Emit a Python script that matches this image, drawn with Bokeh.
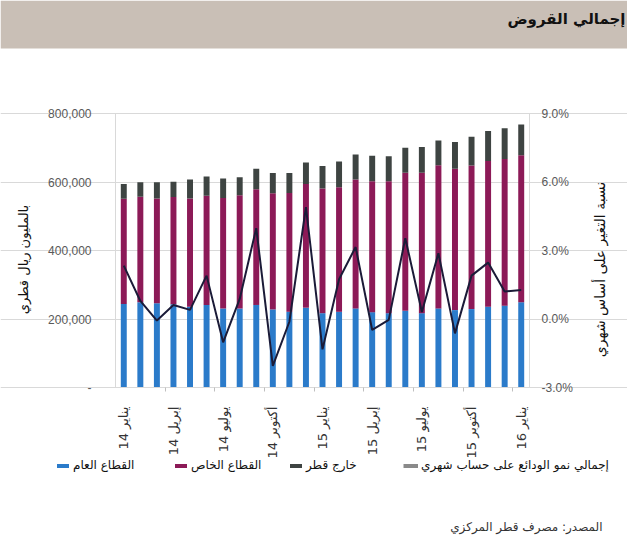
import math
from bokeh.plotting import figure
from bokeh.models import (ColumnDataSource, Range1d, LinearAxis, FixedTicker,
                          Legend, LegendItem, Label, BoxAnnotation)
from bokeh.core.properties import value
from bokeh.embed import file_html
from bokeh.resources import INLINE

# ---------------- data ----------------
months = ["يناير", "فبراير", "مارس", "إبريل", "مايو", "يونيو", "يوليو", "أغسطس",
          "سبتمبر", "أكتوبر", "نوفمبر", "ديسمبر"]
years = ["14"] * 12 + ["15"] * 12 + ["16"]
# million QR
public_sector = [244000, 249000, 246000, 243000, 236000, 241000, 231000, 231000, 241000,
                 228000, 221000, 233000, 217000, 221000, 231000, 220000, 217000, 224000,
                 217000, 231000, 226000, 229000, 236000, 239000, 249000]
private_sector = [307000, 308000, 306000, 313000, 316000, 319000, 322000, 330000, 338000,
                  339000, 347000, 361000, 364000, 364000, 376000, 382000, 385000, 403000,
                  410000, 418000, 413000, 419000, 425000, 428000, 429000]
outside_qatar = [43000, 42000, 47000, 45000, 55000, 56000, 57000, 53000, 60000, 59000,
                 58000, 63000, 66000, 75000, 73000, 75000, 73000, 73000, 75000, 72000,
                 78000, 84000, 88000, 90000, 90000]
# monthly growth, %
growth = [2.34, 0.79, -0.07, 0.61, 0.40, 1.90, -1.02, 0.88, 3.98, -2.05, -0.12, 4.90,
          -1.33, 1.74, 3.15, -0.48, -0.04, 3.54, 0.31, 2.88, -0.63, 1.90, 2.47, 1.20, 1.27]

left_ticks = [0, 200000, 400000, 600000, 800000]
left_tick_labels = ["-", "200,000", "400,000", "600,000", "800,000"]
right_ticks = [-3, 0, 3, 6, 9]
right_tick_labels = ["-3.0%", "0.0%", "3.0%", "6.0%", "9.0%"]

TITLE = "إجمالي القروض"
LEFT_TITLE = "بالمليون ريال قطري"
RIGHT_TITLE = "نسبة التغير على أساس شهري"
SOURCE = "المصدر: مصرف قطر المركزي"
SERIES = ["القطاع العام", "القطاع الخاص", "خارج قطر"]
LINE_NAME = "إجمالي نمو الودائع على حساب شهري"

# ---------------- styles / geometry ----------------
BAND = "#c9bfb6"
COLORS = ["#2b7bca", "#8c1a57", "#3e4442"]
LINE_COLOR = "#1b1b38"
LEGEND_LINE = "#8a8a8a"
GRID = "#d9d9d9"
TICK_TXT = "#595959"
AR_FONT = "DejaVu Sans"
NUM_FONT = "Liberation Sans"
W, H = 627, 537
PL, PR, PT, PB = 115.0, 529.0, 113.0, 387.0   # plot area in canvas pixels

n = len(public_sector)
xs = list(range(1, n + 1))
x0, x1 = 0.5, n + 0.5
y0, y1 = left_ticks[0], left_ticks[-1]
r0, r1 = right_ticks[0], right_ticks[-1]

def Xd(px):
    return x0 + (px - PL) * (x1 - x0) / (PR - PL)
def Yd(py):
    return y0 + (PB - py) * (y1 - y0) / (PB - PT)
def Rd(py):
    return r0 + (PB - py) * (r1 - r0) / (PB - PT)

src = ColumnDataSource(dict(x=xs, pub=public_sector, pri=private_sector,
                            out=outside_qatar, g=growth))

p = figure(width=W, height=H, title=None,
           x_range=Range1d(Xd(0), Xd(W)), y_range=Range1d(Yd(H), Yd(0)),
           toolbar_location=None, output_backend="svg", min_border=0,
           outline_line_color=None, background_fill_color="white",
           border_fill_color="white")
p.extra_y_ranges = {"pct": Range1d(Rd(H), Rd(0))}

# header band + title
p.add_layout(BoxAnnotation(left=Xd(0), right=Xd(W), top=Yd(0), bottom=Yd(48),
                           fill_color=BAND, fill_alpha=1.0, line_color=None,
                           level="underlay"))
p.add_layout(Label(x=Xd(625), y=Yd(18), text=TITLE, text_align="right",
                   text_baseline="middle", text_font=AR_FONT, text_font_size="15px",
                   text_font_style="bold", text_color="#111111"))

rs = p.vbar_stack(["pub", "pri", "out"], x="x", width=0.36, source=src,
                  color=COLORS, line_color=None)
ln = p.line("x", "g", source=src, y_range_name="pct", line_color=LINE_COLOR,
            line_width=2)
# legend proxy for the line (grey swatch as in the original legend)
proxy = p.line("x", "g", source=src, y_range_name="pct", line_color=LEGEND_LINE,
               line_width=4, visible=False)

def style_axis(ax):
    ax.major_label_text_font = NUM_FONT
    ax.major_label_text_font_size = "12px"
    ax.major_label_text_color = TICK_TXT
    ax.axis_line_color = GRID
    ax.major_tick_line_color = GRID
    ax.major_tick_in = 0
    ax.major_tick_out = 5
    ax.minor_tick_line_color = None

# left axis
ya = p.yaxis[0]
ya.fixed_location = x0
ya.bounds = (y0, y1)
ya.ticker = FixedTicker(ticks=left_ticks)
ya.major_label_overrides = {t: l for t, l in zip(left_ticks, left_tick_labels)}
style_axis(ya)
ya.major_label_standoff = 19

# right axis
ra = LinearAxis(y_range_name="pct", ticker=FixedTicker(ticks=right_ticks),
                fixed_location=x1, bounds=(r0, r1))
ra.major_label_overrides = {t: l for t, l in zip(right_ticks, right_tick_labels)}
style_axis(ra)
ra.major_label_standoff = 7
p.add_layout(ra, "right")

# bottom axis
lab_idx = list(range(0, n, 3))
xa = p.xaxis[0]
xa.fixed_location = y0
xa.bounds = (x0, x1)
xa.ticker = FixedTicker(ticks=[xs[i] for i in lab_idx],
                        minor_ticks=[xs[i] + 2.5 for i in lab_idx[:-1]])
xa.major_label_overrides = {xs[i]: months[i % 12] + "  " + years[i] for i in lab_idx}
xa.major_label_orientation = math.pi / 2
xa.major_label_text_font = AR_FONT
xa.major_label_text_font_size = "13px"
xa.major_label_text_color = "#333333"
xa.axis_line_color = GRID
xa.major_tick_line_color = None
xa.major_tick_out = 0
xa.major_tick_in = 0
xa.minor_tick_line_color = "#bfbfbf"
xa.minor_tick_out = 4
xa.minor_tick_in = 0
xa.major_label_standoff = 11

p.xgrid.visible = False
p.ygrid[0].ticker = FixedTicker(ticks=left_ticks)
p.ygrid[0].grid_line_color = GRID
p.ygrid[0].bounds = (x0, x1)

# axis titles and source
p.add_layout(Label(x=Xd(23), y=Yd(259), text=LEFT_TITLE, angle=math.pi / 2,
                   text_align="center", text_baseline="middle", text_font=AR_FONT,
                   text_font_size="13px", text_color="#111111"))
p.add_layout(Label(x=Xd(599), y=Yd(269), text=RIGHT_TITLE, angle=math.pi / 2,
                   text_align="center", text_baseline="middle", text_font=AR_FONT,
                   text_font_size="14px", text_color="#111111"))
p.add_layout(Label(x=Xd(602), y=Yd(526), text=SOURCE, text_align="right",
                   text_baseline="middle", text_font=AR_FONT,
                   text_font_size="12px", text_color="#333333"))

# legends
leg_x = [55, 173, 288, 403]
leg_r = [rs[0], rs[1], rs[2], proxy]
for X, r, t in zip(leg_x, leg_r, SERIES + [LINE_NAME]):
    lg = Legend(items=[LegendItem(label=value(t), renderers=[r])],
                location=(X, H - 472), orientation="horizontal",
                padding=0, margin=0, spacing=0, border_line_color=None,
                background_fill_alpha=0, glyph_width=15, glyph_height=5,
                label_standoff=3, label_height=12, label_text_font=AR_FONT,
                label_text_font_size="12px", label_text_color="#111111")
    p.add_layout(lg, "center")

open("out.html", "w").write(file_html(p, INLINE))
